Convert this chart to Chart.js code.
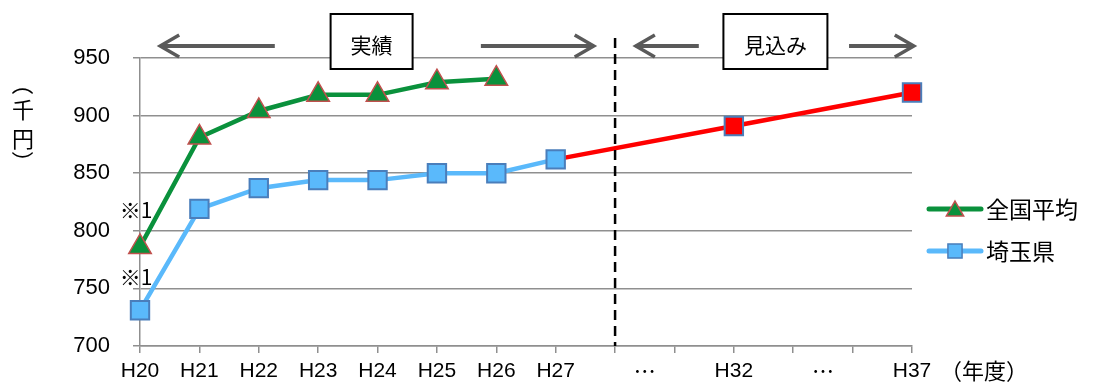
<!DOCTYPE html>
<html>
<head>
<meta charset="utf-8">
<script src="https://cdn.jsdelivr.net/npm/chart.js@4/dist/chart.umd.min.js"></script>
<style>
  html, body { margin: 0; padding: 0; background: #fff; }
  #wrap { width: 1093px; height: 384px; }
</style>
</head>
<body>
<div id="wrap"><canvas id="chart" width="1093" height="384"></canvas></div>
<script>
// --- Data ---
const years = ['H20', 'H21', 'H22', 'H23', 'H24', 'H25', 'H26', 'H27', '', '', 'H32', '', '', 'H37'];
const gapLabels = [{ at: 8.5, text: '⋯' }, { at: 11.5, text: '⋯' }];
const yTicks = [700, 750, 800, 850, 900, 950];

const nationalAvg = [786, 881, 904, 918, 918, 929, 932, null, null, null, null, null, null, null];
const saitama = [731, 819, 837, 844, 844, 850, 850, 862, null, null, null, null, null, null];
const forecast = [null, null, null, null, null, null, null, 862, null, null, 891, null, null, 920];

const seriesNames = ['全国平均', '埼玉県'];

// --- Styles ---
const FONT = '"Noto Sans CJK JP", "Liberation Sans", sans-serif';
const NUM_FONT = '"Liberation Sans", "Noto Sans CJK JP", sans-serif';
const GREEN = '#0A913C';
const BLUE = '#5AB9FB';
const BLUE_EDGE = '#4A7EBB';
const RED = '#FF0000';
const TRI_EDGE = '#C0504D';
const GRID = '#8F8F8F';
const ARROW = '#5A5A5A';

// annotations drawn over the plot (positions in category index units)
const periodBoxes = [
  { text: '実績', center: 3.9, halfW: 41, arrows: [[2.27, 0.34], [5.74, 7.64]] },
  { text: '見込み', center: 10.7, halfW: 52, arrows: [[9.41, 8.35], [11.94, 13.03]] }
];
const divider = 8;

function drawArrow(ctx, x1, x2, y) {
  ctx.save();
  ctx.strokeStyle = ARROW;
  ctx.lineWidth = 4;
  ctx.beginPath();
  ctx.moveTo(x1, y);
  ctx.lineTo(x2, y);
  ctx.stroke();
  const dir = x2 > x1 ? 1 : -1;
  ctx.lineWidth = 3.5;
  ctx.beginPath();
  ctx.moveTo(x2 - dir * 19, y - 11);
  ctx.lineTo(x2, y);
  ctx.lineTo(x2 - dir * 19, y + 11);
  ctx.stroke();
  ctx.restore();
}

function rotatedChar(ctx, c, x, y) {
  ctx.save();
  ctx.translate(x, y);
  ctx.rotate(Math.PI / 2);
  ctx.fillText(c, 0, 0);
  ctx.restore();
}

const overlay = {
  id: 'overlay',
  afterDatasetsDraw(chart) {
    const { ctx, scales: { x, y }, chartArea } = chart;

    // divider between actual and forecast
    ctx.save();
    ctx.strokeStyle = '#000';
    ctx.lineWidth = 2.5;
    ctx.setLineDash([10, 6]);
    ctx.beginPath();
    ctx.moveTo(x.getPixelForValue(divider), 38);
    ctx.lineTo(x.getPixelForValue(divider), chartArea.bottom);
    ctx.stroke();
    ctx.restore();

    // period boxes with arrows
    periodBoxes.forEach(b => {
      const cx = x.getPixelForValue(b.center);
      ctx.save();
      ctx.fillStyle = '#fff';
      ctx.strokeStyle = '#000';
      ctx.lineWidth = 2;
      ctx.fillRect(cx - b.halfW, 14, b.halfW * 2, 55);
      ctx.strokeRect(cx - b.halfW, 14, b.halfW * 2, 55);
      ctx.fillStyle = '#000';
      ctx.font = '21px ' + FONT;
      ctx.textAlign = 'center';
      ctx.textBaseline = 'middle';
      ctx.fillText(b.text, cx, 45);
      ctx.restore();
      b.arrows.forEach(a => drawArrow(ctx, x.getPixelForValue(a[0]), x.getPixelForValue(a[1]), 46));
    });

    // notes next to the first points
    ctx.save();
    ctx.fillStyle = '#000';
    ctx.font = '21px ' + FONT;
    ctx.textAlign = 'center';
    ctx.textBaseline = 'middle';
    const x0 = x.getPixelForValue(0) - 4;
    ctx.fillText('※1', x0, y.getPixelForValue(nationalAvg[0]) - 37);
    ctx.fillText('※1', x0, y.getPixelForValue(saitama[0]) - 33);

    // gap labels on the x axis
    ctx.font = '22px ' + FONT;
    gapLabels.forEach(g => ctx.fillText(g.text, x.getPixelForValue(g.at), 371));
    ctx.textAlign = 'left';
    ctx.fillText('（年度）', x.getPixelForValue(years.length - 1) + 28, 371);

    // vertical axis title
    ctx.font = '22px ' + FONT;
    ctx.textAlign = 'center';
    rotatedChar(ctx, '（', 23, 84);
    ctx.fillText('千', 23, 110);
    ctx.fillText('円', 23, 139);
    rotatedChar(ctx, '）', 23, 162);

    // legend
    const items = [
      { name: seriesNames[0], color: GREEN, style: 'triangle', fill: GREEN, edge: TRI_EDGE, y: 209 },
      { name: seriesNames[1], color: BLUE, style: 'rect', fill: BLUE, edge: BLUE_EDGE, y: 251 }
    ];
    items.forEach(it => {
      ctx.strokeStyle = it.color;
      ctx.lineWidth = 5;
      ctx.lineCap = 'round';
      ctx.beginPath();
      ctx.moveTo(929, it.y);
      ctx.lineTo(981, it.y);
      ctx.stroke();
      ctx.fillStyle = it.fill;
      ctx.strokeStyle = it.edge;
      ctx.lineWidth = 1.5;
      Chart.helpers.drawPoint(ctx, { pointStyle: it.style, radius: 10, borderWidth: 1.5 }, 955, it.y + (it.style === 'triangle' ? 2 : 0));
      ctx.fillStyle = '#000';
      ctx.font = '23px ' + FONT;
      ctx.textAlign = 'left';
      ctx.fillText(it.name, 986, it.y);
    });
    ctx.restore();
  }
};

new Chart(document.getElementById('chart'), {
  type: 'line',
  data: {
    labels: years,
    datasets: [
      {
        label: seriesNames[0],
        data: nationalAvg,
        borderColor: GREEN,
        borderWidth: 4.5,
        pointStyle: 'triangle',
        pointRadius: 13,
        pointBackgroundColor: GREEN,
        pointBorderColor: TRI_EDGE,
        pointBorderWidth: 1.5,
        order: 0
      },
      {
        label: seriesNames[1],
        data: saitama,
        borderColor: BLUE,
        borderWidth: 4.5,
        pointStyle: 'rect',
        pointRadius: 13,
        pointBackgroundColor: BLUE,
        pointBorderColor: BLUE_EDGE,
        pointBorderWidth: 2,
        order: 1
      },
      {
        label: '見込み',
        data: forecast,
        spanGaps: true,
        borderColor: RED,
        borderWidth: 4.5,
        pointStyle: 'rect',
        pointRadius: ctx => (ctx.dataIndex === 7 ? 0 : 13),
        pointBackgroundColor: RED,
        pointBorderColor: BLUE_EDGE,
        pointBorderWidth: 2,
        order: 2
      }
    ]
  },
  options: {
    responsive: false,
    animation: false,
    devicePixelRatio: 1,
    layout: { padding: { left: 0, right: 181, top: 58, bottom: 0 } },
    plugins: { legend: { display: false }, tooltip: { enabled: false } },
    scales: {
      x: {
        type: 'category',
        offset: false,
        afterFit: s => { s.height = 38; },
        grid: { drawOnChartArea: false, drawTicks: true, tickLength: 7, color: GRID, lineWidth: 1.5 },
        border: { display: true, color: GRID, width: 1.5 },
        ticks: { autoSkip: false, maxRotation: 0, padding: 6, color: '#000', font: { family: NUM_FONT, size: 21 } }
      },
      y: {
        min: 700,
        max: 950,
        afterFit: s => { s.width = 140; },
        afterBuildTicks: s => { s.ticks = yTicks.map(v => ({ value: v })); },
        grid: { color: GRID, lineWidth: 1.5, tickLength: 7 },
        border: { display: true, color: GRID, width: 1.5 },
        ticks: { padding: 23, color: '#000', font: { family: NUM_FONT, size: 22 } }
      }
    }
  },
  plugins: [overlay]
});
</script>
</body>
</html>
